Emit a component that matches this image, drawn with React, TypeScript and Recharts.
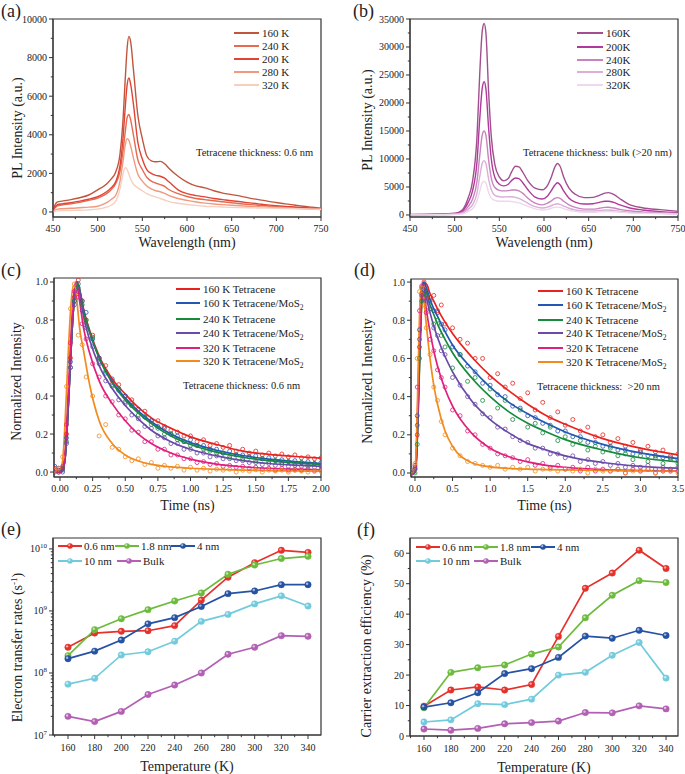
import React from "react";
import { ComposedChart, Line, Scatter, XAxis, YAxis, ReferenceArea } from "recharts";

const FONT = '"Liberation Serif", "Times New Roman", serif';
const INK = "#222";
const FRAME = "#333";

// ---- (a) PL spectra, 0.6 nm tetracene ----
const WL_A = [450, 452, 455, 460, 470, 480, 490, 500, 510, 515, 520, 525, 528, 531, 533, 535, 537, 540, 545, 550, 555, 560, 565, 570, 575, 580, 590, 600, 610, 620, 630, 640, 650, 660, 670, 680, 690, 700, 710, 720, 730, 740, 750];
const PL_A_160 = [150, 350, 520, 560, 640, 740, 880, 1150, 1450, 1700, 2050, 3000, 4500, 7000, 8500, 9100, 8800, 7400, 5000, 3800, 2900, 2650, 2600, 2620, 2500, 2250, 1850, 1550, 1350, 1250, 1100, 980, 900, 820, 720, 640, 560, 490, 420, 360, 300, 250, 200];
const PL_A_240 = [80, 200, 320, 360, 420, 500, 600, 720, 950, 1150, 1450, 2100, 3000, 4200, 4900, 5050, 4750, 4000, 2700, 2200, 1800, 1600, 1500, 1420, 1330, 1150, 950, 800, 700, 640, 580, 530, 480, 430, 390, 350, 310, 280, 250, 220, 190, 170, 150];
const PL_A_200 = [100, 250, 380, 420, 480, 560, 660, 800, 1050, 1250, 1550, 2400, 3600, 5500, 6600, 6950, 6600, 5600, 3600, 2750, 2200, 2000, 1900, 1850, 1750, 1550, 1150, 950, 850, 780, 700, 640, 580, 530, 470, 420, 370, 330, 290, 260, 230, 200, 170];
const PL_A_280 = [50, 100, 150, 170, 190, 220, 250, 300, 480, 650, 850, 1600, 2500, 3500, 3800, 3700, 3400, 2800, 1950, 1600, 1350, 1200, 1100, 1050, 960, 850, 700, 600, 520, 460, 410, 380, 350, 320, 290, 270, 250, 230, 210, 190, 170, 150, 130];
const PL_A_320 = [20, 40, 60, 70, 80, 90, 110, 150, 250, 350, 550, 1200, 1900, 2300, 2200, 1950, 1700, 1450, 1250, 1100, 950, 850, 780, 700, 620, 540, 450, 390, 340, 300, 280, 260, 240, 230, 220, 210, 200, 190, 180, 170, 160, 150, 140];

// ---- (b) PL spectra, bulk tetracene ----
const WL_B = [450, 480, 500, 505, 510, 515, 520, 525, 528, 531, 533, 535, 538, 541, 545, 550, 555, 560, 564, 568, 572, 576, 582, 590, 598, 604, 608, 612, 615, 618, 622, 628, 635, 645, 655, 662, 668, 672, 678, 685, 695, 710, 730, 750];
const PL_B_160 = [80, 150, 300, 500, 1200, 3000, 6000, 14000, 25000, 33000, 34200, 32500, 22000, 14000, 9000, 6800, 6100, 6500, 7800, 8700, 8600, 7700, 6100, 4800, 4500, 5300, 6700, 8500, 9200, 8700, 6800, 4800, 3700, 3100, 3150, 3500, 3900, 4000, 3700, 2900, 1900, 1300, 950, 650];
const PL_B_200 = [60, 120, 250, 400, 900, 2200, 4300, 9500, 17000, 22800, 23800, 22500, 15500, 10000, 6700, 5500, 5200, 5500, 6200, 6600, 6500, 5800, 4500, 3200, 2850, 3400, 4300, 5300, 5750, 5400, 4300, 3000, 2300, 1950, 2000, 2250, 2450, 2450, 2250, 1800, 1300, 900, 600, 400];
const PL_B_240 = [40, 80, 180, 300, 600, 1500, 2800, 6000, 10500, 14400, 15000, 14200, 9800, 6600, 4900, 4400, 4300, 4350, 4450, 4450, 4300, 3900, 3000, 2100, 1800, 2100, 2500, 2950, 3100, 2950, 2450, 1800, 1350, 1050, 1050, 1200, 1350, 1370, 1250, 1000, 750, 550, 400, 280];
const PL_B_280 = [30, 60, 120, 200, 400, 1000, 1800, 3900, 6800, 9300, 9700, 9200, 6400, 4500, 3500, 3250, 3200, 3250, 3250, 3150, 2950, 2650, 2100, 1500, 1250, 1400, 1650, 1900, 2000, 1900, 1600, 1200, 900, 700, 700, 800, 880, 900, 830, 680, 500, 380, 280, 200];
const PL_B_320 = [20, 40, 80, 130, 250, 650, 1100, 2500, 4200, 5800, 6000, 5700, 4000, 3000, 2600, 2450, 2450, 2450, 2400, 2300, 2150, 1950, 1550, 1100, 900, 1000, 1200, 1350, 1400, 1350, 1150, 850, 650, 500, 500, 560, 600, 600, 560, 470, 360, 280, 210, 150];

// ---- (c) TRPL, 0.6 nm: fitted curves and measured points ----
const FIT_C_T = [-0.046, 0.0, 0.02, 0.04, 0.06, 0.08, 0.1, 0.12, 0.13, 0.15, 0.18, 0.23, 0.3, 0.4, 0.5, 0.6, 0.7, 0.85, 1.0, 1.2, 1.4, 1.6, 1.8, 2.0];
const FIT_C_160T = [0, 0, 0.01, 0.08, 0.3, 0.58, 0.83, 0.97, 1.0, 0.96, 0.86, 0.74, 0.61, 0.49, 0.41, 0.34, 0.285, 0.23, 0.185, 0.145, 0.11, 0.093, 0.082, 0.073];
const FIT_C_160M = [0, 0, 0.01, 0.08, 0.3, 0.58, 0.83, 0.97, 1.0, 0.96, 0.85, 0.73, 0.6, 0.475, 0.39, 0.32, 0.265, 0.2, 0.155, 0.115, 0.087, 0.068, 0.055, 0.045];
const FIT_C_240T = [0, 0, 0.01, 0.08, 0.3, 0.58, 0.83, 0.97, 1.0, 0.96, 0.85, 0.73, 0.6, 0.47, 0.38, 0.31, 0.255, 0.19, 0.145, 0.105, 0.078, 0.06, 0.048, 0.04];
const FIT_C_240M = [0, 0, 0.01, 0.08, 0.3, 0.58, 0.83, 0.96, 0.98, 0.95, 0.82, 0.69, 0.56, 0.44, 0.35, 0.28, 0.22, 0.16, 0.12, 0.085, 0.06, 0.045, 0.036, 0.03];
const FIT_C_320T = [0, 0, 0.02, 0.12, 0.38, 0.67, 0.9, 1.0, 0.98, 0.9, 0.76, 0.62, 0.48, 0.36, 0.27, 0.2, 0.15, 0.1, 0.068, 0.042, 0.028, 0.02, 0.015, 0.012];
const FIT_C_320M = [0, 0.01, 0.06, 0.28, 0.58, 0.84, 0.98, 0.97, 0.9, 0.76, 0.64, 0.45, 0.27, 0.15, 0.09, 0.058, 0.04, 0.027, 0.02, 0.014, 0.01, 0.008, 0.006, 0.005];

const PTS_C_T = [-0.04, -0.01, 0.02, 0.05, 0.08, 0.11, 0.14, 0.17, 0.2, 0.25, 0.3, 0.35, 0.4, 0.45, 0.5, 0.55, 0.6, 0.65, 0.7, 0.75, 0.8, 0.85, 0.9, 0.95, 1.0, 1.05, 1.1, 1.15, 1.2, 1.25, 1.3, 1.35, 1.4, 1.45, 1.5, 1.55, 1.6, 1.65, 1.7, 1.75, 1.8, 1.85, 1.9, 1.95, 2.0];
const PTS_C_160T = [0.02, 0.01, 0.02, 0.2, 0.6, 0.92, 1.01, 0.9, 0.8, 0.72, 0.6, 0.56, 0.48, 0.46, 0.4, 0.38, 0.33, 0.32, 0.27, 0.27, 0.24, 0.22, 0.21, 0.19, 0.19, 0.16, 0.17, 0.14, 0.15, 0.13, 0.14, 0.11, 0.12, 0.1, 0.11, 0.09, 0.1, 0.085, 0.095, 0.08, 0.09, 0.075, 0.08, 0.07, 0.075];
const PTS_C_160M = [0.03, 0.02, 0.01, 0.18, 0.58, 0.9, 0.99, 0.9, 0.84, 0.7, 0.6, 0.52, 0.49, 0.43, 0.4, 0.35, 0.33, 0.29, 0.27, 0.24, 0.23, 0.2, 0.19, 0.16, 0.17, 0.14, 0.14, 0.12, 0.12, 0.1, 0.11, 0.09, 0.09, 0.08, 0.085, 0.07, 0.075, 0.06, 0.065, 0.055, 0.06, 0.05, 0.055, 0.045, 0.05];
const PTS_C_240T = [0.01, 0.0, 0.02, 0.16, 0.55, 0.9, 0.97, 0.88, 0.8, 0.71, 0.58, 0.53, 0.46, 0.44, 0.37, 0.35, 0.3, 0.29, 0.25, 0.23, 0.2, 0.2, 0.17, 0.16, 0.14, 0.14, 0.12, 0.11, 0.1, 0.1, 0.08, 0.09, 0.07, 0.08, 0.06, 0.07, 0.055, 0.06, 0.05, 0.055, 0.045, 0.05, 0.04, 0.045, 0.035];
const PTS_C_240M = [0.0, 0.01, 0.0, 0.15, 0.55, 0.88, 0.95, 0.85, 0.76, 0.66, 0.57, 0.48, 0.45, 0.38, 0.36, 0.3, 0.28, 0.24, 0.23, 0.19, 0.18, 0.15, 0.15, 0.12, 0.12, 0.1, 0.1, 0.08, 0.085, 0.07, 0.07, 0.06, 0.06, 0.05, 0.05, 0.04, 0.045, 0.035, 0.04, 0.03, 0.035, 0.03, 0.03, 0.025, 0.03];
const PTS_C_320T = [0.01, 0.0, 0.03, 0.25, 0.68, 0.95, 0.92, 0.78, 0.7, 0.57, 0.5, 0.4, 0.37, 0.3, 0.28, 0.22, 0.21, 0.16, 0.16, 0.12, 0.12, 0.09, 0.09, 0.07, 0.07, 0.05, 0.055, 0.04, 0.045, 0.03, 0.035, 0.025, 0.03, 0.02, 0.025, 0.015, 0.02, 0.01, 0.02, 0.01, 0.015, 0.01, 0.015, 0.005, 0.012];
const PTS_C_320M = [0.01, 0.02, 0.08, 0.45, 0.86, 0.99, 0.72, 0.67, 0.5, 0.4, 0.19, 0.25, 0.13, 0.12, 0.08, 0.06, 0.07, 0.04, 0.05, 0.02, 0.035, 0.02, 0.03, 0.01, 0.025, 0.01, 0.02, 0.005, 0.015, 0.01, 0.015, 0.0, 0.01, 0.005, 0.012, 0.0, 0.01, 0.005, 0.01, 0.0, 0.008, 0.005, 0.0, 0.006, 0.004];

// ---- (d) TRPL, >20 nm ----
const FIT_D_T = [-0.053, 0.0, 0.02, 0.04, 0.06, 0.08, 0.1, 0.12, 0.15, 0.2, 0.25, 0.3, 0.4, 0.5, 0.75, 1.0, 1.25, 1.5, 1.75, 2.0, 2.5, 3.0, 3.5];
const FIT_D_160T = [0, 0, 0.08, 0.3, 0.58, 0.82, 0.95, 0.99, 0.99, 0.94, 0.9, 0.86, 0.79, 0.73, 0.61, 0.51, 0.43, 0.36, 0.3, 0.255, 0.18, 0.13, 0.095];
const FIT_D_160M = [0, 0.01, 0.1, 0.35, 0.65, 0.88, 0.98, 1.0, 0.97, 0.91, 0.86, 0.82, 0.74, 0.67, 0.55, 0.45, 0.37, 0.31, 0.26, 0.215, 0.15, 0.105, 0.075];
const FIT_D_240T = [0, 0, 0.07, 0.28, 0.55, 0.8, 0.93, 0.97, 0.95, 0.88, 0.83, 0.78, 0.7, 0.63, 0.5, 0.4, 0.32, 0.26, 0.215, 0.175, 0.12, 0.08, 0.058];
const FIT_D_240M = [0, 0.01, 0.09, 0.32, 0.6, 0.84, 0.95, 0.97, 0.92, 0.84, 0.77, 0.71, 0.61, 0.53, 0.38, 0.28, 0.21, 0.155, 0.12, 0.09, 0.055, 0.035, 0.025];
const FIT_D_320T = [0, 0.01, 0.12, 0.4, 0.7, 0.92, 0.99, 0.95, 0.86, 0.74, 0.64, 0.56, 0.44, 0.35, 0.21, 0.13, 0.085, 0.058, 0.04, 0.03, 0.018, 0.013, 0.01];
const FIT_D_320M = [0, 0.02, 0.18, 0.5, 0.82, 0.98, 0.97, 0.9, 0.78, 0.6, 0.46, 0.36, 0.22, 0.14, 0.055, 0.032, 0.024, 0.02, 0.018, 0.016, 0.013, 0.011, 0.01];

const PTS_D_T = [-0.04, 0.0, 0.03, 0.06, 0.09, 0.12, 0.15, 0.2, 0.25, 0.3, 0.35, 0.4, 0.5, 0.6, 0.7, 0.8, 0.9, 1.0, 1.1, 1.2, 1.3, 1.4, 1.5, 1.6, 1.7, 1.8, 1.9, 2.0, 2.1, 2.2, 2.3, 2.4, 2.5, 2.6, 2.7, 2.8, 2.9, 3.0, 3.1, 3.2, 3.3, 3.4, 3.5];
const PTS_D_160T = [0.01, 0.02, 0.2, 0.66, 0.94, 1.0, 0.97, 0.92, 0.93, 0.85, 0.88, 0.78, 0.76, 0.7, 0.68, 0.6, 0.6, 0.5, 0.52, 0.45, 0.47, 0.39, 0.42, 0.33, 0.37, 0.29, 0.32, 0.25, 0.28, 0.22, 0.24, 0.19, 0.2, 0.16, 0.18, 0.14, 0.16, 0.12, 0.14, 0.11, 0.12, 0.09, 0.1];
const PTS_D_160M = [0.0, 0.03, 0.3, 0.75, 0.97, 0.99, 0.95, 0.9, 0.85, 0.84, 0.78, 0.75, 0.66, 0.62, 0.56, 0.53, 0.47, 0.46, 0.41, 0.4, 0.35, 0.34, 0.3, 0.29, 0.26, 0.25, 0.22, 0.22, 0.19, 0.19, 0.16, 0.16, 0.14, 0.14, 0.12, 0.12, 0.1, 0.11, 0.09, 0.09, 0.08, 0.08, 0.07];
const PTS_D_240T = [0.01, 0.0, 0.15, 0.6, 0.9, 0.96, 0.93, 0.86, 0.78, 0.8, 0.72, 0.66, 0.55, 0.62, 0.48, 0.5, 0.38, 0.44, 0.34, 0.38, 0.28, 0.33, 0.24, 0.26, 0.21, 0.24, 0.17, 0.19, 0.15, 0.17, 0.12, 0.14, 0.11, 0.13, 0.09, 0.1, 0.07, 0.09, 0.06, 0.08, 0.05, 0.07, 0.05];
const PTS_D_240M = [0.0, 0.02, 0.25, 0.7, 0.93, 0.96, 0.9, 0.86, 0.76, 0.72, 0.64, 0.62, 0.5, 0.46, 0.4, 0.36, 0.31, 0.29, 0.24, 0.23, 0.19, 0.17, 0.16, 0.13, 0.13, 0.1, 0.1, 0.08, 0.09, 0.06, 0.07, 0.05, 0.06, 0.04, 0.05, 0.03, 0.04, 0.03, 0.04, 0.02, 0.03, 0.02, 0.03];
const PTS_D_320T = [0.0, 0.04, 0.45, 0.85, 0.98, 0.92, 0.84, 0.7, 0.64, 0.54, 0.5, 0.45, 0.33, 0.3, 0.22, 0.2, 0.15, 0.13, 0.1, 0.09, 0.08, 0.06, 0.07, 0.04, 0.05, 0.03, 0.04, 0.02, 0.03, 0.01, 0.03, 0.01, 0.02, 0.01, 0.02, 0.0, 0.02, 0.01, 0.02, 0.0, 0.01, 0.01, 0.01];
const PTS_D_320M = [0.01, 0.05, 0.6, 0.95, 0.97, 0.88, 0.76, 0.62, 0.45, 0.38, 0.27, 0.2, 0.13, 0.09, 0.06, 0.05, 0.04, 0.03, 0.04, 0.02, 0.03, 0.02, 0.03, 0.01, 0.02, 0.02, 0.01, 0.02, 0.01, 0.02, 0.0, 0.02, 0.01, 0.01, 0.02, 0.0, 0.01, 0.01, 0.02, 0.0, 0.01, 0.01, 0.0];

// ---- (e) electron transfer rates, (f) extraction efficiency ----
const TEMPS = [160, 180, 200, 220, 240, 260, 280, 300, 320, 340];
const ETR_06 = [2.6e8, 4.4e8, 4.7e8, 4.8e8, 5.8e8, 1.5e9, 3.5e9, 6.0e9, 9.5e9, 8.8e9];
const ETR_18 = [1.9e8, 5.0e8, 7.5e8, 1.05e9, 1.45e9, 1.95e9, 3.9e9, 5.5e9, 7.0e9, 7.6e9];
const ETR_4 = [1.7e8, 2.25e8, 3.4e8, 6.2e8, 7.8e8, 1.18e9, 1.9e9, 2.1e9, 2.65e9, 2.65e9];
const ETR_10 = [6.6e7, 8.2e7, 1.95e8, 2.2e8, 3.25e8, 6.8e8, 8.8e8, 1.3e9, 1.75e9, 1.2e9];
const ETR_BULK = [2.0e7, 1.65e7, 2.4e7, 4.5e7, 6.4e7, 1.0e8, 2.0e8, 2.6e8, 4.0e8, 3.9e8];
const CEE_06 = [9.8, 15.1, 16.1, 15.1, 16.9, 32.7, 48.5, 53.5, 61, 55];
const CEE_18 = [9.3, 20.9, 22.4, 23.3, 26.9, 29.2, 38.8, 46.2, 51, 50.4];
const CEE_4 = [9.5, 10.9, 14.2, 20.5, 22.1, 25.8, 32.8, 32.1, 34.7, 33];
const CEE_10 = [4.6, 5.3, 10.6, 10.3, 12.1, 20, 20.9, 26.5, 30.7, 19];
const CEE_BULK = [2.3, 1.9, 2.5, 4, 4.4, 4.9, 7.7, 7.6, 9.9, 8.9];

// ---- ticks ----
const WL_MAJOR = [450, 500, 550, 600, 650, 700, 750];
const WL_MINOR = [475, 525, 575, 625, 675, 725];
const A_Y_MAJOR = [0, 2000, 4000, 6000, 8000, 10000];
const A_Y_MINOR = [1000, 3000, 5000, 7000, 9000];
const B_Y_MAJOR = [0, 5000, 10000, 15000, 20000, 25000, 30000, 35000];
const B_Y_MINOR = [2500, 7500, 12500, 17500, 22500, 27500, 32500];
const C_X_MAJOR = [0, 0.25, 0.5, 0.75, 1, 1.25, 1.5, 1.75, 2];
const C_X_MINOR = [0.125, 0.375, 0.625, 0.875, 1.125, 1.375, 1.625, 1.875];
const D_X_MAJOR = [0, 0.5, 1, 1.5, 2, 2.5, 3, 3.5];
const D_X_MINOR = [0.25, 0.75, 1.25, 1.75, 2.25, 2.75, 3.25];
const N_Y_MAJOR = [0, 0.2, 0.4, 0.6, 0.8, 1];
const N_Y_MINOR = [0.1, 0.3, 0.5, 0.7, 0.9];
const T_MAJOR = [160, 180, 200, 220, 240, 260, 280, 300, 320, 340];
const T_MINOR = [150, 170, 190, 210, 230, 250, 270, 290, 310, 330];
const LOG_MAJOR = [1e7, 1e8, 1e9, 1e10];
const LOG_MINOR = [2e7, 3e7, 4e7, 5e7, 6e7, 7e7, 8e7, 9e7, 2e8, 3e8, 4e8, 5e8, 6e8, 7e8, 8e8, 9e8, 2e9, 3e9, 4e9, 5e9, 6e9, 7e9, 8e9, 9e9];
const F_Y_MAJOR = [0, 10, 20, 30, 40, 50, 60];
const F_Y_MINOR = [5, 15, 25, 35, 45, 55];

// ---- colours ----
const RED = "#e8231f";
const BLUE = "#2457b5";
const GREEN = "#178a3c";
const VIOLET = "#6a4aa8";
const PINK = "#e0207c";
const ORANGE = "#f28a1e";

const A_SERIES = [
  { name: "160 K", color: "#c0563e", values: PL_A_160 },
  { name: "240 K", color: "#e66a50", values: PL_A_240 },
  { name: "200 K", color: "#e04434", values: PL_A_200 },
  { name: "280 K", color: "#ef9a80", values: PL_A_280 },
  { name: "320 K", color: "#f6cfc0", values: PL_A_320 },
];
const B_SERIES = [
  { name: "160K", color: "#a24f8f", values: PL_B_160 },
  { name: "200K", color: "#b0399b", values: PL_B_200 },
  { name: "240K", color: "#c883be", values: PL_B_240 },
  { name: "280K", color: "#dcaed8", values: PL_B_280 },
  { name: "320K", color: "#edd8ec", values: PL_B_320 },
];
const C_SERIES = [
  { name: "160 K Tetracene", color: RED, fit: FIT_C_160T, pts: PTS_C_160T },
  { name: "160 K Tetracene/MoS2", color: BLUE, fit: FIT_C_160M, pts: PTS_C_160M },
  { name: "240 K Tetracene", color: GREEN, fit: FIT_C_240T, pts: PTS_C_240T },
  { name: "240 K Tetracene/MoS2", color: VIOLET, fit: FIT_C_240M, pts: PTS_C_240M },
  { name: "320 K Tetracene", color: PINK, fit: FIT_C_320T, pts: PTS_C_320T },
  { name: "320 K Tetracene/MoS2", color: ORANGE, fit: FIT_C_320M, pts: PTS_C_320M },
];
const D_SERIES = [
  { name: "160 K Tetracene", color: RED, fit: FIT_D_160T, pts: PTS_D_160T },
  { name: "160 K Tetracene/MoS2", color: BLUE, fit: FIT_D_160M, pts: PTS_D_160M },
  { name: "240 K Tetracene", color: GREEN, fit: FIT_D_240T, pts: PTS_D_240T },
  { name: "240 K Tetracene/MoS2", color: VIOLET, fit: FIT_D_240M, pts: PTS_D_240M },
  { name: "320 K Tetracene", color: PINK, fit: FIT_D_320T, pts: PTS_D_320T },
  { name: "320 K Tetracene/MoS2", color: ORANGE, fit: FIT_D_320M, pts: PTS_D_320M },
];
const E_SERIES = [
  { name: "0.6 nm", color: "#e6302a", etr: ETR_06, cee: CEE_06 },
  { name: "1.8 nm", color: "#6cbb3c", etr: ETR_18, cee: CEE_18 },
  { name: "4 nm", color: "#2552a3", etr: ETR_4, cee: CEE_4 },
  { name: "10 nm", color: "#72cbdc", etr: ETR_10, cee: CEE_10 },
  { name: "Bulk", color: "#b25fb4", etr: ETR_BULK, cee: CEE_BULK },
];

type Pt = { x: number; y: number };
const zip = (xs: number[], ys: number[]): Pt[] => xs.map((x, i) => ({ x, y: ys[i] }));
const merge = (a: number[], b: number[]) => [...a, ...b].sort((p, q) => p - q);
const isMajor = (majors: number[], v: number) => majors.some((m) => Math.abs(m - v) < 1e-6 * Math.max(1, Math.abs(m)));

// label sits tickSize(4) + tickMargin(2) away from the axis line
function xTick(majors: number[], fmt: (v: number) => React.ReactNode, base = 14.5) {
  return (p: any) => {
    const v = p.payload.value;
    const major = isMajor(majors, v);
    const y0 = p.y - 6;
    return (
      <g>
        <line x1={p.x} x2={p.x} y1={y0} y2={y0 + (major ? 4 : 2.2)} stroke={FRAME} strokeWidth={1} />
        {major ? (
          <text x={p.x} y={y0 + base} textAnchor="middle" fontSize={10} fill={INK} fontFamily={FONT}>
            {fmt(v)}
          </text>
        ) : null}
      </g>
    );
  };
}

function yTick(majors: number[], fmt: (v: number) => React.ReactNode) {
  return (p: any) => {
    const v = p.payload.value;
    const major = isMajor(majors, v);
    const x0 = p.x + 6;
    return (
      <g>
        <line x1={x0} x2={x0 - (major ? 4 : 2.2)} y1={p.y} y2={p.y} stroke={FRAME} strokeWidth={1} />
        {major ? (
          <text x={x0 - 6} y={p.y + 3.5} textAnchor="end" fontSize={10} fill={INK} fontFamily={FONT}>
            {fmt(v)}
          </text>
        ) : null}
      </g>
    );
  };
}

const pow10 = (v: number) => (
  <>
    10
    <tspan dy={-4} fontSize={7}>
      {Math.round(Math.log10(v))}
    </tspan>
  </>
);

function YTitle(props: any) {
  const vb = props.viewBox || { y: 0, height: 0 };
  const cy = vb.y + vb.height / 2 + (props.shift || 0);
  return (
    <text
      transform={`translate(${props.at},${cy}) rotate(-90)`}
      textAnchor="middle"
      dy="0.35em"
      fontSize={14}
      fill={INK}
      fontFamily={FONT}
    >
      {props.title}
    </text>
  );
}

function XTitle(props: any) {
  const vb = props.viewBox || { x: 0, y: 0, width: 0 };
  return (
    <text x={vb.x + vb.width / 2} y={vb.y + props.base} textAnchor="middle" fontSize={14} fill={INK} fontFamily={FONT}>
      {props.title}
    </text>
  );
}

const ring = (c: string) => (p: any) => <circle cx={p.cx} cy={p.cy} r={2} fill="none" stroke={c} strokeWidth={0.8} />;
const ball = (c: string) => (p: any) => (
  <g key={`b-${p.index}`}>
    <circle cx={p.cx} cy={p.cy} r={3.2} fill={c} stroke={c} strokeWidth={0.5} />
    <circle cx={p.cx - 0.9} cy={p.cy - 0.9} r={1.2} fill="#fff" fillOpacity={0.6} />
  </g>
);

function withSub(name: string) {
  if (!name.endsWith("MoS2")) return name;
  return (
    <>
      {name.slice(0, -1)}
      <span style={{ fontSize: 7.5, position: "relative", top: 3 }}>2</span>
    </>
  );
}

function LineLegend({ items, left, ys, w }: { items: { name: string; color: string }[]; left: number; ys: number[]; w: number }) {
  return (
    <>
      {items.map((it, i) => (
        <div
          key={it.name}
          style={{ position: "absolute", left, top: ys[i] - 8, height: 16, display: "flex", alignItems: "center", whiteSpace: "nowrap", fontSize: 11 }}
        >
          <span style={{ display: "inline-block", width: w, height: 2, background: it.color }} />
          <span style={{ marginLeft: 3 }}>{withSub(it.name)}</span>
        </div>
      ))}
    </>
  );
}

function BallLegend({ spots }: { spots: { x: number; y: number }[] }) {
  return (
    <>
      {E_SERIES.map((s, i) => (
        <div
          key={s.name}
          style={{ position: "absolute", left: spots[i].x, top: spots[i].y - 8, height: 16, display: "flex", alignItems: "center", whiteSpace: "nowrap", fontSize: 11 }}
        >
          <svg width={24} height={10}>
            <line x1={0} x2={24} y1={5} y2={5} stroke={s.color} strokeWidth={2} />
            <circle cx={12} cy={5} r={2.8} fill={s.color} />
            <circle cx={11.2} cy={4.2} r={1.1} fill="#fff" fillOpacity={0.6} />
          </svg>
          <span style={{ marginLeft: 2 }}>{s.name}</span>
        </div>
      ))}
    </>
  );
}

function Note({ left, cy, text, size = 10.5 }: { left: number; cy: number; text: string; size?: number }) {
  return <div style={{ position: "absolute", left, top: cy - 7, lineHeight: "14px", fontSize: size, whiteSpace: "pre" }}>{text}</div>;
}

function Tag({ left, top, text }: { left: number; top: number; text: string }) {
  return <div style={{ position: "absolute", left, top, fontSize: 18, lineHeight: "20px" }}>{text}</div>;
}

const axisCommon = {
  type: "number" as const,
  allowDataOverflow: true,
  interval: 0 as const,
  tickSize: 4,
  tickMargin: 2,
  tickLine: false,
  axisLine: { stroke: FRAME },
};

function SpectrumPanel(props: {
  left: number;
  top: number;
  width: number;
  yWidth: number;
  right: number;
  yDomain: number[];
  yMajor: number[];
  yMinor: number[];
  series: { name: string; color: string; values: number[] }[];
  wl: number[];
  titleAt: number;
  titleShift: number;
}) {
  const { yDomain } = props;
  return (
    <div style={{ position: "absolute", left: props.left, top: props.top }}>
      <ComposedChart width={props.width} height={255} margin={{ top: 19, right: props.right, bottom: 0, left: 0 }}>
        <XAxis
          {...axisCommon}
          dataKey="x"
          domain={[450, 750]}
          ticks={merge(WL_MAJOR, WL_MINOR)}
          tick={xTick(WL_MAJOR, String)}
          height={38}
          label={<XTitle title="Wavelength (nm)" base={29.5} />}
        />
        <YAxis
          {...axisCommon}
          domain={yDomain}
          ticks={merge(props.yMajor, props.yMinor)}
          tick={yTick(props.yMajor, String)}
          width={props.yWidth}
          label={<YTitle title="PL Intensity (a.u.)" at={props.titleAt} shift={props.titleShift} />}
        />
        <ReferenceArea x1={450} x2={750} y1={yDomain[0]} y2={yDomain[1]} fill="none" stroke={FRAME} strokeWidth={1.2} />
        {props.series.map((s) => (
          <Line
            key={s.name}
            data={zip(props.wl, s.values)}
            dataKey="y"
            type="monotone"
            stroke={s.color}
            strokeWidth={1.4}
            dot={false}
            activeDot={false}
            isAnimationActive={false}
          />
        ))}
      </ComposedChart>
    </div>
  );
}

function DecayPanel(props: {
  left: number;
  top: number;
  width: number;
  yWidth: number;
  right: number;
  marginTop: number;
  xDomain: number[];
  yDomain: number[];
  xMajor: number[];
  xMinor: number[];
  xFmt: (v: number) => string;
  fitT: number[];
  ptsT: number[];
  series: { name: string; color: string; fit: number[]; pts: number[] }[];
  title: string;
  titleAt: number;
  titleShift: number;
}) {
  const { xDomain, yDomain } = props;
  return (
    <div style={{ position: "absolute", left: props.left, top: props.top }}>
      <ComposedChart width={props.width} height={260} margin={{ top: props.marginTop, right: props.right, bottom: 0, left: 0 }}>
        <XAxis
          {...axisCommon}
          dataKey="x"
          domain={xDomain}
          ticks={merge(props.xMajor, props.xMinor)}
          tick={xTick(props.xMajor, props.xFmt)}
          height={38}
          label={<XTitle title="Time (ns)" base={33} />}
        />
        <YAxis
          {...axisCommon}
          domain={yDomain}
          ticks={merge(N_Y_MAJOR, N_Y_MINOR)}
          tick={yTick(N_Y_MAJOR, (v) => v.toFixed(1))}
          width={props.yWidth}
          label={<YTitle title={props.title} at={props.titleAt} shift={props.titleShift} />}
        />
        <ReferenceArea x1={xDomain[0]} x2={xDomain[1]} y1={yDomain[0]} y2={yDomain[1]} fill="none" stroke={FRAME} strokeWidth={1.2} />
        {props.series.map((s) => (
          <Scatter key={`p-${s.name}`} data={zip(props.ptsT, s.pts)} dataKey="y" shape={ring(s.color)} isAnimationActive={false} />
        ))}
        {props.series.map((s) => (
          <Line
            key={`f-${s.name}`}
            data={zip(props.fitT, s.fit)}
            dataKey="y"
            type="monotone"
            stroke={s.color}
            strokeWidth={1.7}
            dot={false}
            activeDot={false}
            isAnimationActive={false}
          />
        ))}
      </ComposedChart>
    </div>
  );
}

function TempPanel(props: {
  left: number;
  top: number;
  width: number;
  yWidth: number;
  right: number;
  xDomain: number[];
  log?: boolean;
  yDomain: number[];
  yTicks: number[];
  yMajor: number[];
  yFmt: (v: number) => React.ReactNode;
  pick: "etr" | "cee";
  title: React.ReactNode;
  titleAt: number;
  titleShift: number;
}) {
  const { xDomain, yDomain } = props;
  return (
    <div style={{ position: "absolute", left: props.left, top: props.top }}>
      <ComposedChart width={props.width} height={259} margin={{ top: 23, right: props.right, bottom: 0, left: 0 }}>
        <XAxis
          {...axisCommon}
          dataKey="x"
          domain={xDomain}
          ticks={merge(T_MAJOR, T_MINOR)}
          tick={xTick(T_MAJOR, String, 15.5)}
          height={props.log ? 39 : 38}
          label={<XTitle title="Temperature (K)" base={35.5} />}
        />
        <YAxis
          {...axisCommon}
          scale={props.log ? "log" : "auto"}
          domain={yDomain}
          ticks={props.yTicks}
          tick={yTick(props.yMajor, props.yFmt)}
          width={props.yWidth}
          label={<YTitle title={props.title} at={props.titleAt} shift={props.titleShift} />}
        />
        <ReferenceArea x1={xDomain[0]} x2={xDomain[1]} y1={yDomain[0]} y2={yDomain[1]} fill="none" stroke={FRAME} strokeWidth={1.2} />
        {E_SERIES.map((s) => (
          <Line
            key={s.name}
            data={zip(TEMPS, s[props.pick])}
            dataKey="y"
            type="linear"
            stroke={s.color}
            strokeWidth={1.7}
            dot={ball(s.color)}
            activeDot={false}
            isAnimationActive={false}
          />
        ))}
      </ComposedChart>
    </div>
  );
}

export default function App() {
  return (
    <div style={{ position: "relative", width: 685, height: 774, background: "#fff", fontFamily: FONT, color: INK, overflow: "hidden" }}>
      <style>{"body{margin:0}"}</style>

      <SpectrumPanel
        left={0}
        top={0}
        width={340}
        yWidth={53}
        right={19}
        yDomain={[-260, 10000]}
        yMajor={A_Y_MAJOR}
        yMinor={A_Y_MINOR}
        series={A_SERIES}
        wl={WL_A}
        titleAt={17.5}
        titleShift={10}
      />
      <SpectrumPanel
        left={340}
        top={0}
        width={345}
        yWidth={70}
        right={7}
        yDomain={[-360, 35000]}
        yMajor={B_Y_MAJOR}
        yMinor={B_Y_MINOR}
        series={B_SERIES}
        wl={WL_B}
        titleAt={27.5}
        titleShift={2}
      />

      <DecayPanel
        left={0}
        top={255}
        width={340}
        yWidth={54}
        right={19}
        marginTop={23}
        xDomain={[-0.046, 2.0]}
        yDomain={[-0.026, 1.021]}
        xMajor={C_X_MAJOR}
        xMinor={C_X_MINOR}
        xFmt={(v) => v.toFixed(2)}
        fitT={FIT_C_T}
        ptsT={PTS_C_T}
        series={C_SERIES}
        title="Normalized Intensity"
        titleAt={16.5}
        titleShift={4}
      />
      <DecayPanel
        left={340}
        top={255}
        width={345}
        yWidth={71}
        right={7}
        marginTop={24}
        xDomain={[-0.053, 3.5]}
        yDomain={[-0.021, 1.016]}
        xMajor={D_X_MAJOR}
        xMinor={D_X_MINOR}
        xFmt={(v) => v.toFixed(1)}
        fitT={FIT_D_T}
        ptsT={PTS_D_T}
        series={D_SERIES}
        title="Normalized1 Intensity"
        titleAt={27.5}
        titleShift={3}
      />

      <TempPanel
        left={0}
        top={515}
        width={340}
        yWidth={53}
        right={19}
        xDomain={[148.75, 349.75]}
        log
        yDomain={[1e7, 1.5e10]}
        yTicks={merge(LOG_MAJOR, LOG_MINOR)}
        yMajor={LOG_MAJOR}
        yFmt={pow10}
        pick="etr"
        title={
          <>
            Electron transfer rates (s
            <tspan dy={-5} fontSize={9}>
              -1
            </tspan>
            <tspan dy={5}>)</tspan>
          </>
        }
        titleAt={17}
        titleShift={11}
      />
      <TempPanel
        left={340}
        top={515}
        width={345}
        yWidth={70}
        right={7}
        xDomain={[149.6, 348.9]}
        yDomain={[0, 65]}
        yTicks={merge(F_Y_MAJOR, F_Y_MINOR)}
        yMajor={F_Y_MAJOR}
        yFmt={String}
        pick="cee"
        title="Carrier extraction efficiency (%)"
        titleAt={26}
        titleShift={9}
      />

      <LineLegend items={A_SERIES} left={234} ys={[33, 46, 59, 72, 85]} w={25} />
      <LineLegend items={B_SERIES} left={577} ys={[33, 46.5, 60, 72, 85]} w={26} />
      <LineLegend items={C_SERIES} left={176} ys={[289, 303, 319, 333, 348, 361]} w={24} />
      <LineLegend items={D_SERIES} left={538} ys={[291, 305, 320, 333, 348, 362]} w={25} />
      <BallLegend spots={[{ x: 58, y: 546 }, { x: 115, y: 546 }, { x: 171, y: 546 }, { x: 58, y: 561 }, { x: 117, y: 561 }]} />
      <BallLegend spots={[{ x: 416, y: 547 }, { x: 474, y: 547 }, { x: 531, y: 547 }, { x: 416, y: 561 }, { x: 474, y: 561 }]} />

      <Note left={196} cy={153} text="Tetracene thickness: 0.6 nm" />
      <Note left={523} cy={153} text="Tetracene thickness: bulk (>20 nm)" />
      <Note left={183} cy={386} text="Tetracene thickness: 0.6 nm" />
      <Note left={537} cy={387} text="Tetracene thickness:  >20 nm" />

      <Tag left={1} top={1} text="(a)" />
      <Tag left={353} top={1} text="(b)" />
      <Tag left={1} top={260} text="(c)" />
      <Tag left={354} top={260} text="(d)" />
      <Tag left={1} top={519} text="(e)" />
      <Tag left={357} top={520} text="(f)" />
    </div>
  );
}
